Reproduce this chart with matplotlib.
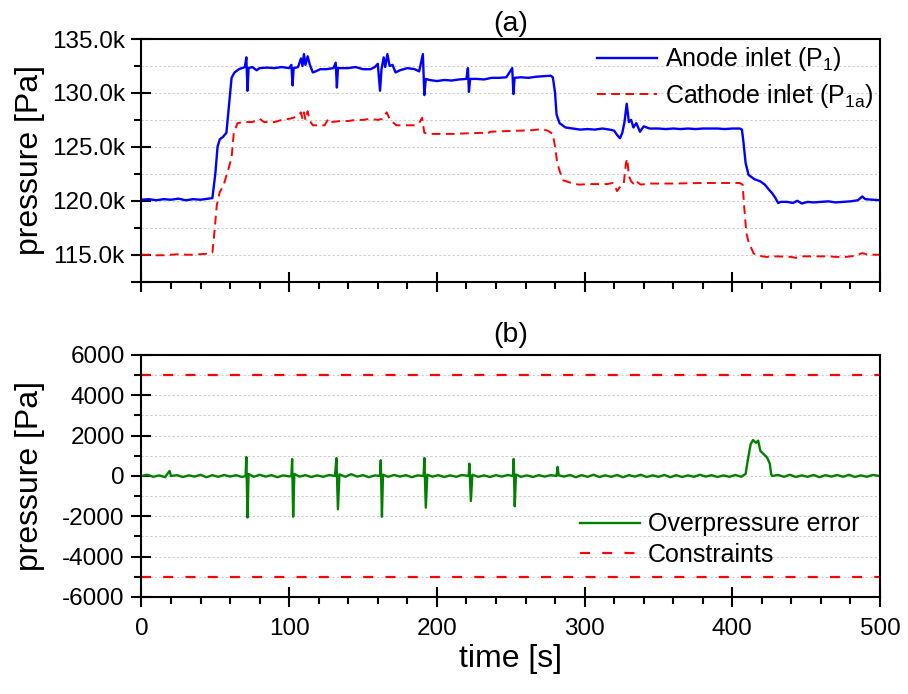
import matplotlib
matplotlib.use("Agg")
import matplotlib.pyplot as plt
from matplotlib.ticker import FixedLocator, MultipleLocator, FuncFormatter

plt.rcParams["font.family"] = ["Liberation Sans", "DejaVu Sans"]
plt.rcParams["mathtext.default"] = "regular"
plt.rcParams["axes.unicode_minus"] = False

# (a) anode inlet pressure P1 [Pa]
t_anode = [0, 5, 10, 15, 20, 25, 30, 35, 40, 45, 48, 50, 51.5, 53, 55, 57.5, 59,
           61, 63, 66, 68, 70, 71, 71.8, 72.5, 75, 78, 80, 85, 90, 95, 100, 101.5,
           102.3, 103, 106, 108, 109, 110, 111, 112.5, 114, 116, 118, 121, 125, 130,
           131.5, 132.3, 133, 136, 140, 145, 150, 155, 158, 160, 161.5, 162.5, 164,
           165, 166.5, 168, 170, 172, 175, 180, 185, 188, 190.5, 191.5, 192.5, 195,
           200, 205, 210, 215, 220, 221, 221.7, 222.5, 227, 232, 237, 242, 247, 251,
           251.8, 252.6, 257, 262, 267, 272, 277, 278.5, 280, 281, 283, 287, 292, 297,
           302, 307, 312, 317, 320, 322, 324, 325.5, 327, 328.5, 330, 331.5, 333, 335,
           337.5, 340, 344, 350, 355, 360, 365, 370, 375, 380, 385, 390, 395, 400, 405,
           406.5, 407.5, 409, 411, 415, 419, 422, 425, 427, 429, 431, 433, 437, 441,
           444, 447, 451, 455, 460, 465, 470, 475, 480, 485, 488, 490, 495, 500]
p_anode = [120100, 120150, 120050, 120150, 120100, 120200, 120050, 120150, 120100,
           120200, 120250, 122500, 125000, 125700, 125900, 126300, 128500, 131400,
           131900, 132200, 132300, 132400, 133300, 130200, 132300, 132400, 132100,
           132300, 132350, 132300, 132400, 132300, 132600, 130700, 132300, 132400,
           133200, 132500, 133600, 132600, 133400, 132600, 131900, 132000, 132200,
           132200, 132300, 132800, 130500, 132300, 132300, 132300, 132400, 132200,
           132200, 132400, 132700, 130200, 132200, 133300, 132400, 133600, 132500,
           132600, 131900, 132100, 132300, 132200, 132000, 133600, 129800, 131300,
           131200, 131100, 131200, 131150, 131250, 131300, 132300, 130100, 131300,
           131300, 131250, 131400, 131400, 131450, 132300, 129900, 131400, 131450,
           131400, 131500, 131550, 131600, 131450, 130000, 128000, 127200, 126800,
           126700, 126600, 126650, 126600, 126700, 126600, 126500, 126100, 125800,
           126300, 127300, 129000, 127300, 127500, 126800, 127200, 126400, 126900,
           126700, 126700, 126650, 126700, 126650, 126700, 126650, 126700, 126700,
           126700, 126650, 126700, 126700, 126600, 125500, 123500, 122400, 122000,
           121800, 121500, 121000, 120700, 120300, 119800, 119900, 119900, 119800,
           120000, 119750, 119900, 119850, 119900, 119950, 119850, 119900, 119950,
           120050, 120400, 120150, 120100, 120050]

# (a) cathode inlet pressure P1a [Pa]
t_cathode = [0, 5, 10, 15, 20, 25, 30, 35, 40, 45, 48, 49, 51, 53, 55.5, 57, 59, 61,
             62.5, 65, 70, 75, 77, 80, 83, 90, 95, 100, 103, 106, 108, 109, 110, 111,
             112.5, 114, 116, 120, 124, 126.5, 128.5, 135, 140, 145, 150, 155, 160,
             163, 166, 168, 170, 172.5, 180, 185, 188, 190, 191.5, 195, 200, 210, 220,
             230, 234, 236, 245, 255, 265, 271, 275, 278.5, 280, 281.5, 283, 285.5,
             290, 296, 305, 315, 319, 321, 322, 323.5, 325, 326.5, 328, 328.8, 330,
             331.5, 333, 334.5, 336, 338, 345, 360, 380, 395, 405, 407, 408, 409.5,
             411, 414.5, 418, 423, 430, 440, 443, 446, 455, 465, 470, 477, 483, 488,
             492, 500]
p_cathode = [115000, 115000, 114950, 114950, 115000, 115050, 115000, 115000, 115050,
             115100, 115200, 116500, 119600, 120800, 121400, 122100, 123000, 124000,
             126300, 127200, 127300, 127300, 127400, 127600, 127300, 127300, 127500,
             127600, 127700, 127900, 128200, 127600, 128200, 127500, 128300, 127400,
             127000, 127000, 127000, 127600, 127300, 127400, 127400, 127500, 127500,
             127600, 127500, 127600, 128200, 127600, 127300, 127000, 127000, 127000,
             127200, 127700, 126300, 126200, 126200, 126200, 126250, 126300, 126200,
             126400, 126450, 126500, 126550, 126650, 126500, 126200, 125000, 123500,
             122800, 121900, 121700, 121500, 121550, 121550, 121650, 121200, 120900,
             121200, 121500, 121600, 123500, 123900, 122300, 121800, 121600, 121900,
             121700, 121500, 121600, 121600, 121650, 121650, 121650, 121500, 119500,
             117000, 116200, 115100, 114900, 114800, 114850, 114800, 114700, 114850,
             114850, 114850, 114800, 114800, 114900, 115150, 115000, 115000]

# (b) overpressure error [Pa]
t_error = [0, 4, 8, 12, 16, 19, 20, 24, 28, 32, 36, 40, 44, 48, 52, 56, 60, 64, 68,
           70.5, 71, 71.8, 72.5, 76, 80, 84, 88, 92, 96, 100,
           101.5, 102, 102.7, 103.5, 107, 111, 115, 119, 123, 127,
           131, 132, 133, 134, 138, 142, 146, 150, 154, 158,
           161.5, 162, 162.8, 163.5, 167, 171, 175, 179, 183, 187,
           191, 191.5, 192.5, 193.5, 197, 201, 205, 209, 213, 217,
           221.5, 222, 223, 224, 228, 232, 236, 240, 244, 248,
           251.5, 252, 252.7, 253.5, 257, 261, 265, 269, 273, 277,
           281, 281.7, 282.5, 286, 290, 294, 298, 302, 306, 310,
           314, 318, 322, 326, 330, 334, 338, 342, 346, 350,
           354, 358, 362, 366, 370, 374, 378, 382, 386, 390,
           394, 398, 402, 406,
           409, 410.5, 412.4, 414, 416, 417.5, 419, 421, 423.6, 425.4, 426.3,
           427, 431, 435, 439, 443, 447, 451, 455, 459, 463,
           467, 471, 475, 479, 483, 487, 491, 495, 500]
p_error = [0, 60, -40, 30, -60, 250, 0, 40, -50, 30, -30, 60, -60, 40, -40, 50, -30,
           40, -50, 0, 940, -2060, 100, -40, 60, -30, 40, -60, 30, -20,
           0, 840, -2020, 100, -30, 40, -50, 30, -40, 50,
           0, 890, -1650, 80, -40, 90, -30, 40, -60, 30,
           0, 780, -2020, 60, -40, 50, -30, 40, -60, 30,
           0, 890, -1570, 60, -30, 40, -50, 30, -40, 50,
           0, 610, -1240, 60, -40, 30, -50, 40, -30, 50,
           0, 840, -1500, 70, -40, 30, -50, 40, -30, 40,
           0, 450, 30, -30, 50, -60, 40, -40, 60, -50,
           30, -40, 50, -60, 40, -30, 60, -50, 30, -40,
           50, -60, 40, -50, 30, -40, 60, -30, 40, -50,
           30, -40, 50, -40,
           100, 800, 1570, 1780, 1650, 1750, 1240, 1100, 910, 600, 80,
           0, 50, -40, 60, -50, 30, -40, 50, -60, 40,
           -30, 50, -40, 60, -50, 30, -40, 50, 0]

limit_upper = 5000
limit_lower = -5000

fig = plt.figure(figsize=(9.08, 6.94), dpi=100)
ax1 = fig.add_axes([0.1558, 0.5941, 0.8134, 0.3497])
ax2 = fig.add_axes([0.1558, 0.1398, 0.8134, 0.3487])

ax1.plot(t_anode, p_anode, color="#0000ff", lw=1.7, label="Anode inlet (P$_1$)")
ax1.plot(t_cathode, p_cathode, color="#ff0000", lw=1.4, dashes=(4.5, 2.8),
         label="Cathode inlet (P$_{1a}$)")

ax2.plot(t_error, p_error, color="#008000", lw=1.7, label="Overpressure error")
ax2.axhline(limit_upper, color="#ff0000", lw=1.6, dashes=(4.5, 5.5), label="Constraints")
ax2.axhline(limit_lower, color="#ff0000", lw=1.6, dashes=(4.5, 5.5))

# axes styling
for ax in (ax1, ax2):
    ax.set_xlim(0, 500)
    ax.xaxis.set_major_locator(MultipleLocator(100))
    ax.xaxis.set_minor_locator(MultipleLocator(20))
    ax.tick_params(which="major", direction="inout", length=14, width=1.5,
                   labelsize=17.5, pad=5, top=False, right=False)
    ax.tick_params(which="minor", direction="out", length=5, width=1.5,
                   top=False, right=False)
    for s in ax.spines.values():
        s.set_linewidth(1.5)
    ax.yaxis.grid(True, which="both", color="#cccccc", lw=0.8, linestyle=(0, (2, 2)))
    ax.set_axisbelow(True)
    ax.set_ylabel("pressure [Pa]", fontsize=23)
    ax.yaxis.set_label_coords(-0.1307, 0.5)

ax1.set_ylim(112500, 135000)
ax1.yaxis.set_major_locator(FixedLocator([112500, 115000, 120000, 125000, 130000, 135000]))
ax1.yaxis.set_minor_locator(FixedLocator([117500, 122500, 127500, 132500]))
ax1.yaxis.set_major_formatter(
    FuncFormatter(lambda v, p: "" if v == 112500 else f"{v / 1000:.1f}k"))
ax1.tick_params(axis="x", labelbottom=False)
ax1.set_title("(a)", fontsize=20.5, pad=6)

ax2.set_ylim(-6000, 6000)
ax2.yaxis.set_major_locator(MultipleLocator(2000))
ax2.yaxis.set_minor_locator(MultipleLocator(1000))
ax2.tick_params(axis="x", which="major", pad=8)
ax2.set_xlabel("time [s]", fontsize=23, labelpad=3)
ax2.set_title("(b)", fontsize=20.5, pad=9)

ax1.legend(loc="upper left", bbox_to_anchor=(0.614, 0.984), frameon=False,
           fontsize=18, handlelength=2.4, handletextpad=0.3, labelspacing=0.35,
           borderaxespad=0, borderpad=0.1)
ax2.legend(loc="upper left", bbox_to_anchor=(0.591, 0.36), frameon=False,
           fontsize=18, handlelength=2.4, handletextpad=0.3, labelspacing=0.25,
           borderaxespad=0, borderpad=0.1)

fig.savefig("out.png", dpi=100)
